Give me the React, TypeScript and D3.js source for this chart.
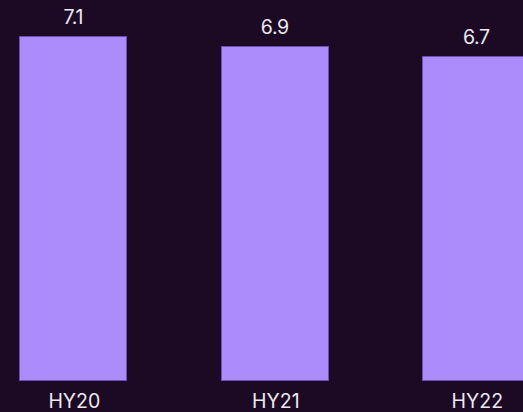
import React from "react";
import * as d3 from "d3";

const categories: string[] = ["HY20", "HY21", "HY22"];
const values: number[] = [7.1, 6.9, 6.7];
const valueLabels: string[] = ["7.1", "6.9", "6.7"];

const W = 523;
const H = 412;
const BG = "#1c0a24";
const BAR = "#ab8cfa";
const BAR_STROKE = "#6c4fb4";
const TEXT = "#ece8f0";
const FONT = "Inter, 'Noto Sans', sans-serif";

export default function App() {
  const x = d3
    .scaleBand<string>()
    .domain(categories)
    .range([-27.4, 577.1])
    .paddingInner(0.464)
    .paddingOuter(0.232);
  const y = d3.scaleLinear().domain([0, 7.85]).range([380, 0]);

  return (
    <svg
      width={W}
      height={H}
      style={{ position: "absolute", left: 0, top: 0, display: "block", overflow: "hidden" }}
    >
      <rect x={0} y={0} width={W} height={H} fill={BG} />
      {categories.map((c, i) => {
        const bx = x(c)!;
        const by = y(values[i]);
        const bw = x.bandwidth();
        const bh = y(0) - by;
        return (
          <g key={c}>
            <rect
              x={Math.round(bx) + 0.5}
              y={Math.round(by) + 0.5}
              width={Math.round(bw) - 1}
              height={Math.round(bh)}
              fill={BAR}
              stroke={BAR_STROKE}
              strokeWidth={1}
            />
            <text
              x={bx + bw / 2}
              y={by - 12}
              textAnchor="middle"
              fill={TEXT}
              fontFamily={FONT}
              fontSize={19.5}
              letterSpacing={-0.3}
            >
              {valueLabels[i]}
            </text>
            <text
              x={bx + bw / 2 + 1}
              y={407.7}
              textAnchor="middle"
              fill={TEXT}
              fontFamily={FONT}
              fontSize={19.5}
            >
              {c}
            </text>
          </g>
        );
      })}
    </svg>
  );
}
